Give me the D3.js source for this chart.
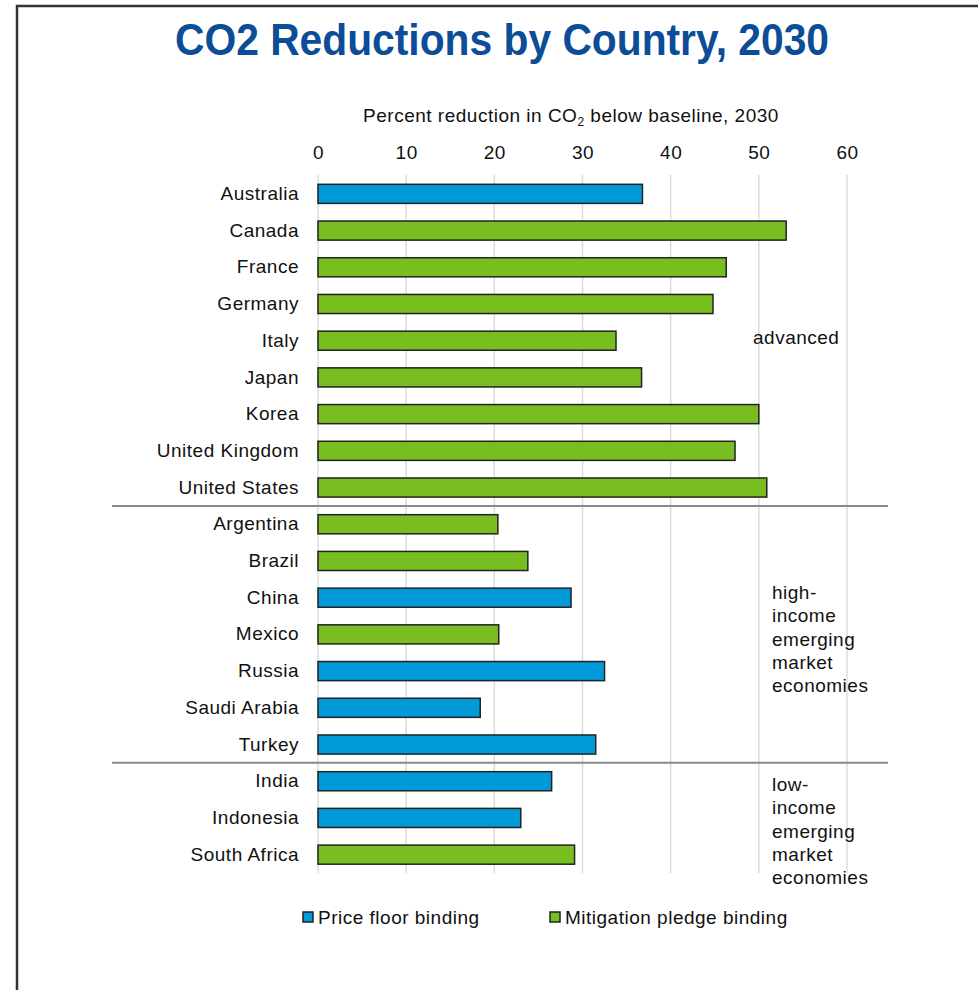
<!DOCTYPE html>
<html>
<head>
<meta charset="utf-8">
<script src="https://cdn.jsdelivr.net/npm/d3@7"></script>
<style>
    body { margin: 0; background: #fff; }
    svg { display: block; font-family: "Liberation Sans", Arial, sans-serif; }
</style>
</head>
<body>
<svg id="main_svg" width="978" height="990"></svg>
<script>
// data
const countries = [
    "Australia", "Canada", "France", "Germany", "Italy", "Japan", "Korea",
    "United Kingdom", "United States",
    "Argentina", "Brazil", "China", "Mexico", "Russia", "Saudi Arabia", "Turkey",
    "India", "Indonesia", "South Africa",
];
const reductions = [
    36.8, 53.1, 46.3, 44.8, 33.8, 36.7, 50.0, 47.3, 50.9,
    20.4, 23.8, 28.7, 20.5, 32.5, 18.4, 31.5,
    26.5, 23.0, 29.1,
];
// which constraint binds: "floor" = price floor, "pledge" = mitigation pledge
const binding = [
    "floor", "pledge", "pledge", "pledge", "pledge", "pledge", "pledge", "pledge", "pledge",
    "pledge", "pledge", "floor", "pledge", "floor", "floor", "floor",
    "floor", "floor", "pledge",
];
const xTicks = [0, 10, 20, 30, 40, 50, 60];
const groups = [
    { lines: ["advanced"], first: "Australia", last: "United States" },
    { lines: ["high-", "income", "emerging", "market", "economies"], first: "Argentina", last: "Turkey" },
    { lines: ["low-", "income", "emerging", "market", "economies"], first: "India", last: "South Africa" },
];
const legendItems = [
    { key: "floor", label: "Price floor binding" },
    { key: "pledge", label: "Mitigation pledge binding" },
];

const svg = d3.select("svg");
const FONT = 19;
const SPACING = 0.5;

const color = d3.scaleOrdinal()
    .domain(["floor", "pledge"])
    .range(["#009ad9", "#78be20"]);

const x = d3.scaleLinear().domain([0, 60]).range([318, 847]);
const y = d3.scaleBand()
    .domain(countries)
    .range([175.5, 873])
    .paddingInner(0.48)
    .paddingOuter(0.24);

// frame
svg.append("path")
    .attr("d", "M17,990V6H978")
    .attr("fill", "none")
    .attr("stroke", "#333")
    .attr("stroke-width", 2.5);

// title
svg.append("text")
    .attr("x", 502)
    .attr("y", 55)
    .attr("text-anchor", "middle")
    .attr("font-size", 45)
    .attr("font-weight", "bold")
    .attr("fill", "#0b4d96")
    .attr("textLength", 654)
    .attr("lengthAdjust", "spacingAndGlyphs")
    .text("CO2 Reductions by Country, 2030");

// axis title
const axisTitle = svg.append("text")
    .attr("x", 571)
    .attr("y", 122)
    .attr("text-anchor", "middle")
    .attr("font-size", FONT)
    .attr("letter-spacing", SPACING)
    .attr("fill", "#111");
axisTitle.append("tspan").text("Percent reduction in CO");
axisTitle.append("tspan").attr("font-size", 12).attr("dy", 4).text("2");
axisTitle.append("tspan").attr("dy", -4).text(" below baseline, 2030");

// gridlines
svg.append("g")
    .selectAll("line")
    .data(xTicks)
    .join("line")
    .attr("x1", (d) => x(d))
    .attr("x2", (d) => x(d))
    .attr("y1", 175)
    .attr("y2", 873)
    .attr("stroke", "#dcdcdc")
    .attr("stroke-width", 1.5);

// top axis labels
const xAxis = svg.append("g")
    .attr("transform", "translate(0,165)")
    .call(d3.axisTop(x).tickValues(xTicks).tickSize(0).tickPadding(6));
xAxis.select(".domain").remove();
xAxis.selectAll("text")
    .attr("font-size", FONT)
    .attr("letter-spacing", SPACING)
    .attr("font-family", "Liberation Sans, Arial, sans-serif")
    .attr("fill", "#111");

// group separators
svg.append("g")
    .selectAll("line")
    .data(groups.slice(1))
    .join("line")
    .attr("x1", 112)
    .attr("x2", 888)
    .attr("y1", (d) => y(d.first) - y.step() * y.paddingInner() / 2)
    .attr("y2", (d) => y(d.first) - y.step() * y.paddingInner() / 2)
    .attr("stroke", "#8a8a8a")
    .attr("stroke-width", 2);

// bars
svg.append("g")
    .selectAll("rect")
    .data(countries)
    .join("rect")
    .attr("x", x(0))
    .attr("y", (d) => y(d))
    .attr("width", (d, i) => x(reductions[i]) - x(0))
    .attr("height", y.bandwidth())
    .attr("fill", (d, i) => color(binding[i]))
    .attr("stroke", "#222")
    .attr("stroke-width", 1.5);

// country labels
const yAxis = svg.append("g")
    .attr("transform", "translate(301,0)")
    .call(d3.axisLeft(y).tickSize(0).tickPadding(2));
yAxis.select(".domain").remove();
yAxis.selectAll("text")
    .attr("font-size", FONT)
    .attr("letter-spacing", SPACING)
    .attr("font-family", "Liberation Sans, Arial, sans-serif")
    .attr("fill", "#111");

// group labels
const groupLabelPos = [
    { x: 753, y: 344 },
    { x: 772, y: 599 },
    { x: 772, y: 791 },
];
groups.forEach((g, i) => {
    const t = svg.append("text")
        .attr("x", groupLabelPos[i].x)
        .attr("y", groupLabelPos[i].y)
        .attr("font-size", FONT)
        .attr("letter-spacing", SPACING)
        .attr("fill", "#111");
    g.lines.forEach((line, j) => {
        t.append("tspan")
            .attr("x", groupLabelPos[i].x)
            .attr("dy", j === 0 ? 0 : 23.3)
            .text(line);
    });
});

// legend
const legendX = [303, 550];
const legend = svg.append("g")
    .selectAll("g")
    .data(legendItems)
    .join("g")
    .attr("transform", (d, i) => "translate(" + legendX[i] + ",912)");
legend.append("rect")
    .attr("width", 10)
    .attr("height", 10)
    .attr("fill", (d) => color(d.key))
    .attr("stroke", "#222")
    .attr("stroke-width", 1.5);
legend.append("text")
    .attr("x", 15)
    .attr("y", 12)
    .attr("font-size", FONT)
    .attr("letter-spacing", SPACING)
    .attr("fill", "#111")
    .text((d) => d.label);
</script>
</body>
</html>
